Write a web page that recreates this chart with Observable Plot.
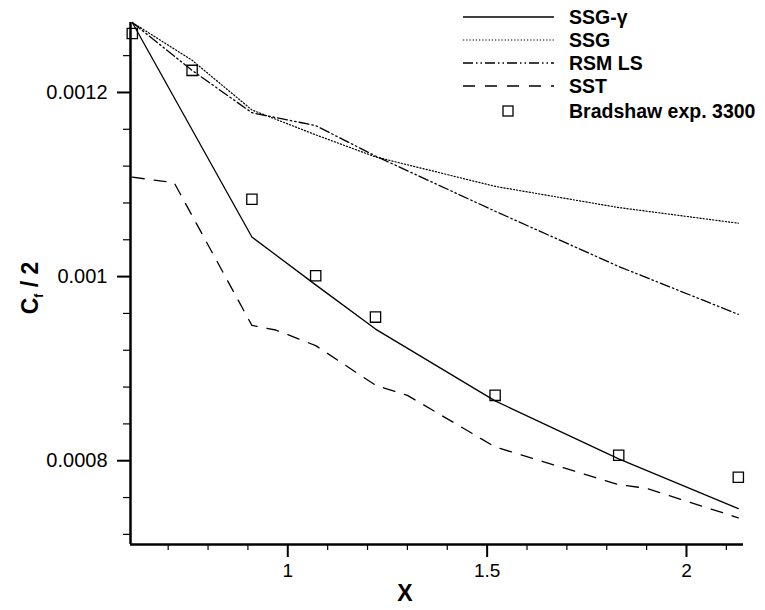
<!DOCTYPE html>
<html><head><meta charset="utf-8">
<script src="https://cdn.jsdelivr.net/npm/d3@7"></script>
<script src="https://cdn.jsdelivr.net/npm/@observablehq/plot@0.6"></script>
<style>
body{margin:0;background:#fff;}
svg{font-family:"Liberation Sans",Arial,sans-serif;}
</style>
</head><body><div id="chart"></div>
<script>
// Experimental data (Bradshaw exp. 3300)
const expX  = [0.61, 0.76, 0.91, 1.07, 1.22, 1.52, 1.83, 2.13];
const expCf = [0.001264, 0.001224, 0.001084, 0.001001, 0.000956, 0.000871, 0.000806, 0.000782];
// SSG-gamma
const ssgGammaX  = [0.61, 0.91, 1.07, 1.22, 1.52, 1.83, 2.13];
const ssgGammaCf = [0.001276, 0.001043, 0.000991, 0.000943, 0.000865, 0.000802, 0.000748];
// SSG
const ssgX  = [0.61, 0.76, 0.91, 1.07, 1.22, 1.52, 1.83, 2.13];
const ssgCf = [0.001276, 0.001235, 0.001181, 0.001154, 0.001130, 0.001098, 0.001075, 0.001058];
// RSM LS
const rsmX  = [0.61, 0.76, 0.91, 1.07, 1.22, 1.52, 1.83, 2.13];
const rsmCf = [0.001276, 0.001224, 0.001178, 0.001164, 0.001131, 0.001071, 0.001011, 0.000959];
// SST
const sstX  = [0.61, 0.715, 0.91, 0.97, 1.07, 1.22, 1.30, 1.52, 1.83, 1.90, 2.13];
const sstCf = [0.001108, 0.001102, 0.000947, 0.000942, 0.000925, 0.000882, 0.000871, 0.000815, 0.000774, 0.000770, 0.000738];

// Axes
const xDomain = [0.6055, 2.143];
const yDomain = [0.000709, 0.001276];
const xMajorTicks = [1, 1.5, 2];
const xMajorLabels = ["1", "1.5", "2"];
const xMinorTicks = [0.7, 0.8, 0.9, 1.1, 1.2, 1.3, 1.4, 1.6, 1.7, 1.8, 1.9, 2.1];
const yMajorTicks = [0.0008, 0.001, 0.0012];
const yMajorLabels = ["0.0008", "0.001", "0.0012"];
const yMinorTicks = [0.00072, 0.00076, 0.00084, 0.00088, 0.00092, 0.00096, 0.00104, 0.00108, 0.00112, 0.00116, 0.00124];

// Legend entries
const legendNames = ["SSG-\u03b3", "SSG", "RSM LS", "SST", "Bradshaw exp. 3300"];

const series = [
  {name: legendNames[0], xs: ssgGammaX, ys: ssgGammaCf, dash: null, w: 1.3},
  {name: legendNames[1], xs: ssgX, ys: ssgCf, dash: "1.2,2", w: 1.2},
  {name: legendNames[2], xs: rsmX, ys: rsmCf, dash: "10,3,1.5,3,1.5,3", w: 1.3},
  {name: legendNames[3], xs: sstX, ys: sstCf, dash: "12,10", w: 1.3}
];

const toRows = (xs, ys) => xs.map((x, i) => ({x, y: ys[i]}));

const lineMarks = series.map(s => Plot.line(toRows(s.xs, s.ys), {
  x: "x", y: "y", stroke: "black", strokeWidth: s.w,
  strokeDasharray: s.dash || undefined
}));

const svg = Plot.plot({
  width: 765, height: 610,
  marginLeft: 130, marginRight: 22, marginTop: 22, marginBottom: 66,
  style: {fontFamily: '"Liberation Sans", Arial, sans-serif', color: "black", background: "white"},
  x: {domain: xDomain, label: null},
  y: {domain: yDomain, label: null},
  marks: [
    Plot.axisX({ticks: xMinorTicks, tickSize: 6, strokeWidth: 1.2, tickFormat: () => "", label: null}),
    Plot.axisX({ticks: xMajorTicks, tickSize: 13, strokeWidth: 2, tickPadding: 6, fontSize: 19, label: null,
      tickFormat: d => xMajorLabels[xMajorTicks.indexOf(d)]}),
    Plot.axisY({ticks: yMinorTicks, tickSize: 7, strokeWidth: 1.2, tickFormat: () => "", label: null}),
    Plot.axisY({ticks: yMajorTicks, tickSize: 13, strokeWidth: 2, tickPadding: 10, fontSize: 20, label: null,
      tickFormat: d => yMajorLabels[yMajorTicks.indexOf(d)]}),
    ...lineMarks,
    Plot.dot(toRows(expX, expCf), {x: "x", y: "y", symbol: "square", r: 5.8, stroke: "black", strokeWidth: 1.3, fill: "none"}),
    Plot.ruleX([xDomain[0]], {stroke: "black", strokeWidth: 2.5}),
    Plot.ruleY([yDomain[0]], {stroke: "black", strokeWidth: 2.5})
  ]
});

const root = d3.select(svg);

// Axis titles
root.append("text")
  .attr("x", 405).attr("y", 601)
  .attr("text-anchor", "middle")
  .attr("font-size", 23).attr("font-weight", "bold").attr("fill", "black")
  .text("X");

const yl = root.append("text")
  .attr("transform", "translate(38,288) rotate(-90)")
  .attr("text-anchor", "middle")
  .attr("font-size", 23).attr("font-weight", "bold").attr("fill", "black");
yl.append("tspan").text("C");
yl.append("tspan").attr("font-size", 12).attr("dy", 5).text("f");
yl.append("tspan").attr("dy", -5).text(" / 2");

// Legend
const lg = root.append("g").attr("font-size", 19.5).attr("font-weight", "bold").attr("text-anchor", "start");
const rowY = [17, 40, 63, 86, 111];
series.forEach((s, i) => {
  lg.append("line").attr("x1", 463).attr("x2", 554).attr("y1", rowY[i]).attr("y2", rowY[i])
    .attr("stroke", "black").attr("stroke-width", s.w)
    .attr("stroke-dasharray", s.dash || null);
  lg.append("text").attr("x", 569).attr("y", rowY[i]).attr("dy", "0.36em")
    .attr("text-anchor", "start").attr("fill", "black").text(s.name);
});
lg.append("rect").attr("x", 503).attr("y", rowY[4] - 5).attr("width", 10).attr("height", 10)
  .attr("fill", "none").attr("stroke", "black").attr("stroke-width", 1.3);
lg.append("text").attr("x", 569).attr("y", rowY[4]).attr("dy", "0.36em")
  .attr("text-anchor", "start").attr("fill", "black").text(legendNames[4]);

document.getElementById("chart").appendChild(svg);
</script>
</body></html>
